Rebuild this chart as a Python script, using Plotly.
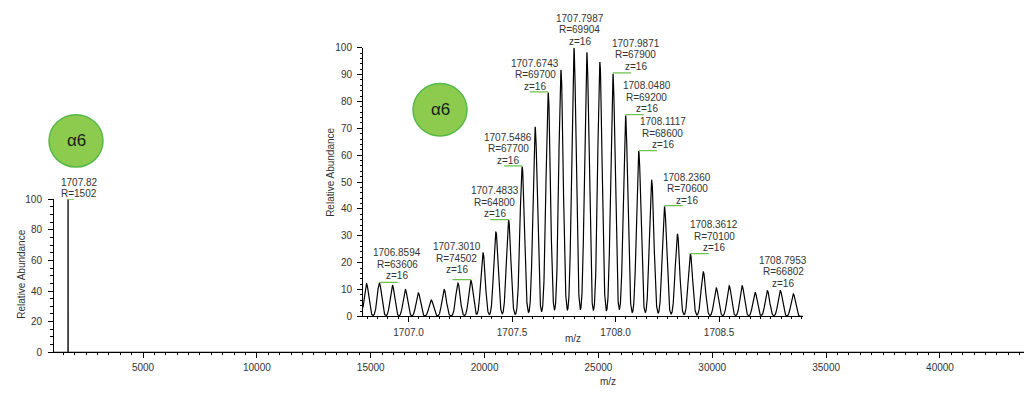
import numpy as np
import plotly.graph_objects as go

# ---------------- data ----------------
# main (full range) spectrum
main_mz = [1707.82]
main_int = [100]
main_res = [1502]

# inset: isotope envelope (m/z, relative abundance)
iso_mz = [1706.7970, 1706.8594, 1706.9220, 1706.9845, 1707.0470, 1707.1095,
          1707.1720, 1707.2385, 1707.3010, 1707.3594, 1707.4219, 1707.4833,
          1707.5486, 1707.6115, 1707.6743, 1707.7360, 1707.7987, 1707.8610,
          1707.9240, 1707.9871, 1708.0480, 1708.1117, 1708.1740, 1708.2360,
          1708.2985, 1708.3612, 1708.4235, 1708.4860, 1708.5485, 1708.6110,
          1708.6735, 1708.7330, 1708.7953, 1708.8580]
iso_int = [12.2, 12.4, 11.6, 10.0, 8.8, 6.1, 10.0, 12.4, 13.4, 23.8, 31.5, 35.7,
           55.7, 70.4, 83.3, 91.7, 100.0, 98.3, 94.5, 90.3, 74.8, 61.4, 50.8, 40.9,
           30.7, 23.1, 16.6, 10.6, 11.4, 11.4, 9.0, 9.6, 9.6, 8.4]

# labelled peaks in the inset
lab_mz = [1706.8594, 1707.3010, 1707.4833, 1707.5486, 1707.6743, 1707.7987,
          1707.9871, 1708.0480, 1708.1117, 1708.2360, 1708.3612, 1708.7953]
lab_res = [63606, 74502, 64800, 67700, 69700, 69904, 67900, 69200, 68600,
           70600, 70100, 66802]
lab_z = [16, 16, 16, 16, 16, 16, 16, 16, 16, 16, 16, 16]

main_x_ticks = [5000, 10000, 15000, 20000, 25000, 30000, 35000, 40000]
inset_x_ticks = [1707.0, 1707.5, 1708.0, 1708.5]

# ---------------- styles ----------------
FONT = "Liberation Sans, Arial, sans-serif"
TXT = "#333333"
GREEN_LINE = "#6CC24A"
LINE_GAP = 11.5
# label offset (px) relative to peak apex, and side of the green marker
lab_xshift = [18, -14, -14, -14, -13, 6, 23, 21, 24, 23, 24, 3]
lab_yshift = [1, 4, 0, 0, 0, 0, 1, 0, 0, 0, 0, 1]
lab_side = [1, -1, -1, -1, -1, 0, 1, 1, 1, 1, 1, 0]

W, H = 1024, 401
def px(x):
    return x / W
def py(y):
    return 1 - y / H

# ---------------- profiles ----------------
xm = np.sort(np.concatenate([np.linspace(1090, 43690, 3000),
                             np.linspace(main_mz[0] - 8, main_mz[0] + 8, 300)]))
ym = np.zeros_like(xm)
for m, h, r in zip(main_mz, main_int, main_res):
    s = m / r / 2.355
    ym += h * np.exp(-0.5 * ((xm - m) / s) ** 2)

sig = float(np.mean([m / r for m, r in zip(lab_mz, lab_res)])) / 2.355
xi = np.linspace(1706.78, 1708.905, 3000)
yi = np.zeros_like(xi)
for m, h in zip(iso_mz, iso_int):
    yi += h * np.exp(-0.5 * ((xi - m) / sig) ** 2)

fig = go.Figure()
fig.add_trace(go.Scatter(x=xm, y=ym, mode="lines", line=dict(color="black", width=1.3),
                         xaxis="x", yaxis="y", hoverinfo="skip", showlegend=False))
fig.add_trace(go.Scatter(x=xi, y=yi, mode="lines", line=dict(color="black", width=1.2),
                         xaxis="x2", yaxis="y2", hoverinfo="skip", showlegend=False))

seg = 0.088
for m, side in zip(lab_mz, lab_side):
    if side == 0:
        continue
    h = iso_int[int(np.argmin([abs(v - m) for v in iso_mz]))]
    fig.add_trace(go.Scatter(x=[m, m + side * seg], y=[h + 0.3, h + 0.3], mode="lines",
                             line=dict(color=GREEN_LINE, width=1.3),
                             xaxis="x2", yaxis="y2", hoverinfo="skip", showlegend=False))
fig.add_trace(go.Scatter(x=[main_mz[0], main_mz[0] + 260], y=[main_int[0], main_int[0]],
                         mode="lines", line=dict(color=GREEN_LINE, width=1.3),
                         xaxis="x", yaxis="y", hoverinfo="skip", showlegend=False))

lab_font = dict(family=FONT, size=10, color=TXT)
annotations = []

def stacked(lines, x, y, xref, yref, xs, ys):
    n = len(lines)
    for i, t in enumerate(lines):
        annotations.append(dict(x=x, y=y, xref=xref, yref=yref, text=t, showarrow=False,
                                xanchor="center", yanchor="bottom", xshift=xs,
                                yshift=ys + (n - 1 - i) * LINE_GAP, font=lab_font))

stacked([f"{main_mz[0]:.2f}", f"R={main_res[0]}"], main_mz[0], main_int[0], "x", "y", 11, -2)
for m, r, z, xs, ys in zip(lab_mz, lab_res, lab_z, lab_xshift, lab_yshift):
    h = iso_int[int(np.argmin([abs(v - m) for v in iso_mz]))]
    stacked([f"{m:.4f}", f"R={r}", f"z={z}"], m, h, "x2", "y2", xs, ys - 1)

title_font = dict(family=FONT, size=10, color=TXT)
annotations += [
    dict(x=px(22), y=py(277), xref="paper", yref="paper", text="Relative Abundance",
         textangle=-90, showarrow=False, xanchor="center", yanchor="middle", font=title_font),
    dict(x=px(608), y=py(387), xref="paper", yref="paper", text="m/z",
         showarrow=False, xanchor="center", yanchor="middle", font=title_font),
    dict(x=px(331), y=py(172), xref="paper", yref="paper", text="Relative Abundance",
         textangle=-90, showarrow=False, xanchor="center", yanchor="middle", font=title_font),
    dict(x=px(573), y=py(343), xref="paper", yref="paper", text="m/z",
         showarrow=False, xanchor="center", yanchor="middle", font=title_font),
]
shapes = []
for cx, cy in [(76, 139), (440, 107)]:
    shapes.append(dict(type="circle", xref="paper", yref="paper",
                       x0=px(cx - 27), x1=px(cx + 27), y0=py(cy + 27), y1=py(cy - 27),
                       fillcolor="#8DCB4F", line=dict(color="#55B848", width=1.5),
                       layer="above"))
    annotations.append(dict(x=px(cx), y=py(cy), xref="paper", yref="paper", text="α6",
                            showarrow=False, xanchor="center", yanchor="middle",
                            font=dict(family=FONT, size=17, color="#1a1a1a")))

axis_common = dict(showgrid=False, zeroline=False, showline=True, linecolor="black",
                   linewidth=1, ticks="outside", tickcolor="black", tickwidth=1,
                   tickfont=dict(family=FONT, size=10, color=TXT))

fig.update_layout(
    width=W, height=H, margin=dict(l=0, r=0, t=0, b=0),
    paper_bgcolor="white", plot_bgcolor="white", showlegend=False,
    xaxis=dict(domain=[px(54), 1.0], range=[1090, 43690], tickvals=main_x_ticks,
               tickformat="d", ticklen=5, ticklabelstandoff=1,
               minor=dict(dtick=500, ticklen=2, ticks="outside", tickcolor="black"),
               anchor="y", **axis_common),
    yaxis=dict(domain=[py(357), py(199)], range=[0, 100], dtick=20, ticklen=5,
               ticklabelstandoff=4,
               minor=dict(dtick=5, ticklen=3, ticks="outside", tickcolor="black"),
               anchor="x", **axis_common),
    xaxis2=dict(domain=[px(363), px(803)], range=[1706.78, 1708.905], tickvals=inset_x_ticks,
                tickformat=".1f", ticklen=5, ticklabelstandoff=2,
                minor=dict(dtick=0.05, tick0=1707.0, ticklen=2, ticks="outside", tickcolor="black"),
                anchor="y2", **axis_common),
    yaxis2=dict(domain=[py(320), py(43)], range=[0, 100], dtick=10, ticklen=5,
                ticklabelstandoff=3,
                minor=dict(dtick=2, ticklen=2, ticks="outside", tickcolor="black"),
                anchor="x2", **axis_common),
    annotations=annotations, shapes=shapes,
)

fig.write_html("out.html")
